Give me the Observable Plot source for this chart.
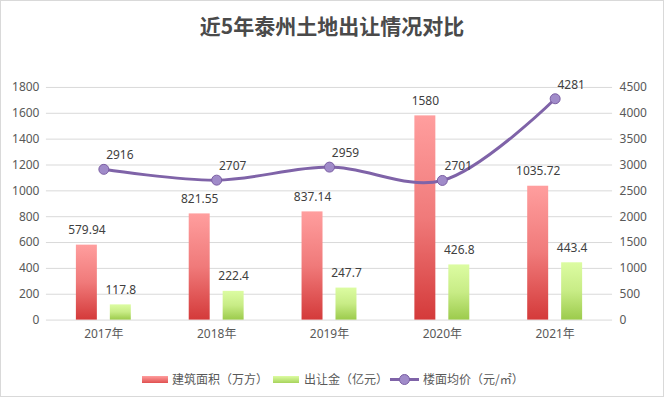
<!DOCTYPE html>
<html><head><meta charset="utf-8">
<script src="https://cdn.jsdelivr.net/npm/d3@7"></script>
<script src="https://cdn.jsdelivr.net/npm/@observablehq/plot@0.6"></script>
<style>
body{margin:0;background:#fff;}
#chart{position:relative;width:664px;height:397px;box-sizing:border-box;border:1px solid #d9d9d9;font-family:"Noto Sans","Noto Sans CJK SC",sans-serif;overflow:hidden;background:#fff;}
#title{position:absolute;top:9px;left:0;width:100%;text-align:center;font-size:21px;font-weight:bold;color:#4a4a4a;font-family:"Noto Sans CJK SC",sans-serif;letter-spacing:0px;}
#plot{position:absolute;left:-1px;top:49px;}
#legend{position:absolute;top:368px;left:141px;height:20px;font-size:12px;color:#595959;font-family:"Noto Sans CJK SC",sans-serif;}
.item{position:absolute;top:0;white-space:nowrap;line-height:20px;}
.sw{position:absolute;top:7px;width:26px;height:7px;}
</style></head>
<body>
<div id="chart">
  <div id="title">近5年泰州土地出让情况对比</div>
  <div id="plot"></div>
  <div id="legend"></div>
</div>
<script>
const years = ["2017年","2018年","2019年","2020年","2021年"];
const area = [579.94, 821.55, 837.14, 1580, 1035.72];
const money = [117.8, 222.4, 247.7, 426.8, 443.4];
const price = [2916, 2707, 2959, 2701, 4281];
const leftTicks = [0,200,400,600,800,1000,1200,1400,1600,1800];
const rightTicks = [0,500,1000,1500,2000,2500,3000,3500,4000,4500];
const seriesNames = ["建筑面积（万方）","出让金（亿元）","楼面均价（元/㎡）"];
const k = 1800/4500;
const rows = years.map((y,i)=>({year:y, area:area[i], money:money[i], price:price[i]}));

const svg = Plot.plot({
  width:664, height:300, marginTop:37, marginBottom:30, marginLeft:46, marginRight:51,
  style:{fontSize:"12px", fontFamily:'"Noto Sans","Noto Sans CJK SC",sans-serif', color:"#595959", background:"transparent", overflow:"visible"},
  x:{type:"band", domain:years, padding:0, label:null},
  y:{domain:[0,1800], label:null},
  marks:[
    Plot.ruleY(leftTicks, {stroke:"#d9d9d9", strokeWidth:1}),
    Plot.axisY(leftTicks, {anchor:"left", tickSize:0, tickPadding:7, label:null, tickFormat:d=>String(d), fill:"#595959"}),
    Plot.axisY(rightTicks.map(v=>v*k), {anchor:"right", tickSize:0, tickPadding:7, label:null, tickFormat:d=>String(Math.round(d/k)), fill:"#595959"}),
    Plot.axisX({tickSize:0, tickPadding:9, label:null, fill:"#595959"}),
    Plot.barY(rows, {x:"year", y:"area", fill:"url(#gRed)", insetLeft:29, insetRight:63}),
    Plot.barY(rows, {x:"year", y:"money", fill:"url(#gGreen)", insetLeft:63, insetRight:29}),
    Plot.text(rows, {x:"year", y:"area", text:d=>String(d.area), dx:-17, dy:-15, fill:"#404040"}),
    Plot.text(rows, {x:"year", y:"money", text:d=>String(d.money), dx:17, dy:-15, fill:"#404040"}),
    Plot.line(rows, {x:"year", y:d=>d.price*k, stroke:"#7f63a8", strokeWidth:3, curve:"catmull-rom"}),
    Plot.dot(rows, {x:"year", y:d=>d.price*k, r:5, fill:"#a08bc9", stroke:"#7a5ea3", strokeWidth:1}),
    Plot.text(rows, {x:"year", y:d=>d.price*k, text:d=>String(d.price), dx:16, dy:-14, fill:"#404040"})
  ]
});
svg.insertAdjacentHTML("afterbegin", `<defs>
<linearGradient id="gRed" x1="0" y1="0" x2="0" y2="1"><stop offset="0" stop-color="#ff9e9e"/><stop offset="0.5" stop-color="#f07a7a"/><stop offset="1" stop-color="#d43a3a"/></linearGradient>
<linearGradient id="gGreen" x1="0" y1="0" x2="0" y2="1"><stop offset="0" stop-color="#dcfca2"/><stop offset="0.5" stop-color="#c8ec86"/><stop offset="1" stop-color="#9ccb4c"/></linearGradient>
</defs>`);
document.getElementById("plot").appendChild(svg);

const lg = document.getElementById("legend");
lg.innerHTML = `
<div class="item" style="left:0"><div class="sw" style="left:0;background:linear-gradient(#ff9e9e,#e05050)"></div><span style="margin-left:30px">${seriesNames[0]}</span></div>
<div class="item" style="left:131px"><div class="sw" style="left:0;background:linear-gradient(#dcfca2,#a8d45c)"></div><span style="margin-left:31px">${seriesNames[1]}</span></div>
<div class="item" style="left:248px"><svg width="30" height="20" style="position:absolute;left:0;top:0"><line x1="0" y1="10.5" x2="29" y2="10.5" stroke="#7f63a8" stroke-width="3"/><circle cx="14.5" cy="10.5" r="5" fill="#a08bc9" stroke="#7a5ea3"/></svg><span style="margin-left:33px">${seriesNames[2]}</span></div>`;
</script>
</body></html>
